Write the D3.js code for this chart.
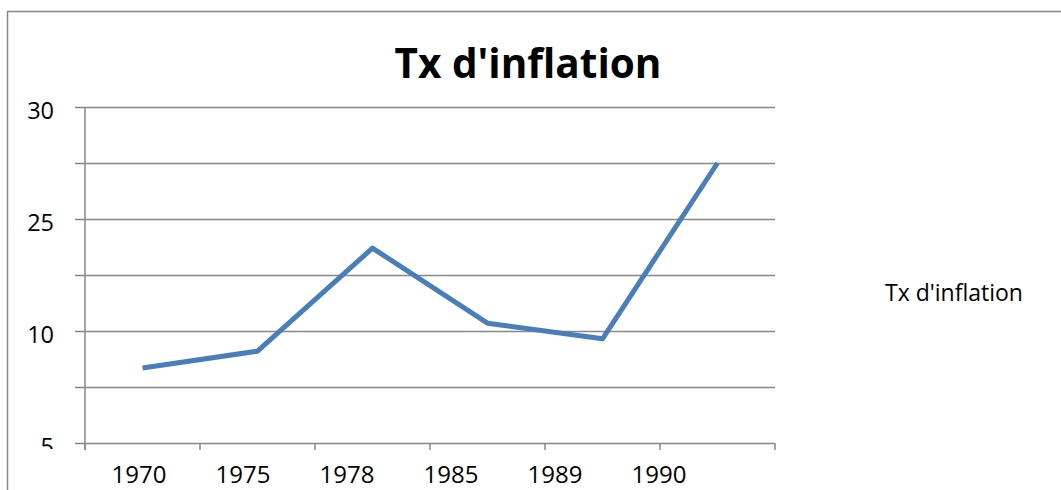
<!DOCTYPE html>
<html>
<head>
<meta charset="utf-8">
<script src="https://cdn.jsdelivr.net/npm/d3@7"></script>
<style>
  html, body { margin: 0; padding: 0; background: #fff; }
  svg { display: block; }
  text { font-family: "Open Sans", "DejaVu Sans", sans-serif; fill: #000; }
</style>
</head>
<body>
<svg id="chart" width="1061" height="490"></svg>
<script>
const categories = ["1970", "1975", "1978", "1985", "1989", "1990"];
const values = [6.7, 8.2, 17.4, 10.7, 9.3, 25.0];
const yTickValues = [0, 5, 10, 15, 20, 25, 30];
const yTickLabels = ["5", "", "10", "", "25", "", "30"];
const seriesName = "Tx d'inflation";
const chartTitle = "Tx d'inflation";

(function () {
const svg = d3.select("#chart");
const plotLeft = 85, plotRight = 775, plotTop = 107, plotBottom = 443;
const gridColor = "#878787";

const x = d3.scaleBand().domain(categories).range([plotLeft, plotRight]);
const xLabel = d3.scalePoint().domain(categories).range([139, 659]);
const y = d3.scaleLinear().domain([0, 30]).range([plotBottom, plotTop]);

// chart border
svg.append("path")
  .attr("d", "M7.5,495 V11.5 H1070")
  .attr("fill", "none")
  .attr("stroke", gridColor)
  .attr("stroke-width", 1.5);

// title
svg.append("text")
  .attr("x", 528).attr("y", 78)
  .attr("text-anchor", "middle")
  .attr("font-size", 40.5)
  .attr("font-weight", "bold")
  .text(chartTitle);

// gridlines + y ticks
svg.append("g").selectAll("line")
  .data(yTickValues)
  .join("line")
  .attr("x1", plotLeft - 10).attr("x2", plotRight)
  .attr("y1", d => Math.round(y(d)) + 0.5).attr("y2", d => Math.round(y(d)) + 0.5)
  .attr("stroke", gridColor)
  .attr("stroke-width", 1.5);

// y axis line
svg.append("line")
  .attr("x1", plotLeft).attr("x2", plotLeft)
  .attr("y1", y(30)).attr("y2", plotBottom + 7)
  .attr("stroke", gridColor).attr("stroke-width", 1.5);

// x ticks at band boundaries
const boundaries = categories.map(c => x(c)).concat([plotRight]);
svg.append("g").selectAll("line")
  .data(boundaries)
  .join("line")
  .attr("x1", d => d).attr("x2", d => d)
  .attr("y1", plotBottom).attr("y2", plotBottom + 7)
  .attr("stroke", gridColor).attr("stroke-width", 1.5);

// y labels (clipped at bottom)
svg.append("clipPath").attr("id", "yclip")
  .append("rect").attr("x", 0).attr("y", 0).attr("width", 80).attr("height", 449);
svg.append("g").attr("clip-path", "url(#yclip)")
  .selectAll("text")
  .data(yTickValues.map((v, i) => ({ v, label: yTickLabels[i] })).filter(d => d.label !== ""))
  .join("text")
  .attr("x", 54)
  .attr("y", d => y(d.v) + 12)
  .attr("text-anchor", "end")
  .attr("font-size", 23.5)
  .text(d => d.label);

// x labels
svg.append("g").selectAll("text")
  .data(categories)
  .join("text")
  .attr("x", d => xLabel(d))
  .attr("y", 483)
  .attr("text-anchor", "middle")
  .attr("font-size", 24)
  .text(d => d);

// line
const data = categories.map((c, i) => ({ c, v: values[i] }));
svg.append("path")
  .datum(data)
  .attr("fill", "none")
  .attr("stroke", "#4A7EBB")
  .attr("stroke-width", 5)
  .attr("stroke-linejoin", "round")
  .attr("d", d3.line().x(d => x(d.c) + x.bandwidth() / 2).y(d => y(d.v)));

// legend
svg.append("text")
  .attr("x", 885).attr("y", 301)
  .attr("font-size", 23)
  .text(seriesName);
})();
</script>
</body>
</html>
